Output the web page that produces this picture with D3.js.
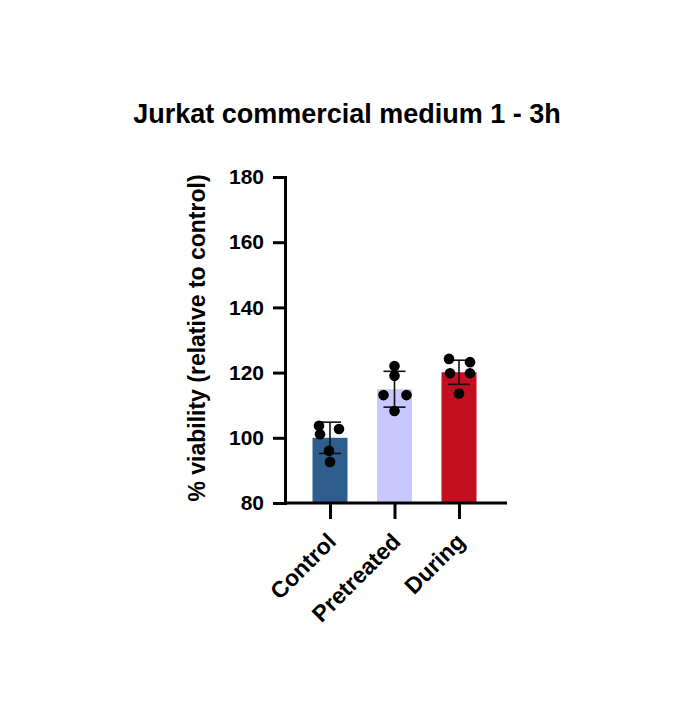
<!DOCTYPE html>
<html>
<head>
<meta charset="utf-8">
<script src="https://cdn.jsdelivr.net/npm/d3@7"></script>
<style>
  body { margin: 0; background: #fff; }
  text { font-family: "Liberation Sans", Arial, sans-serif; font-weight: bold; fill: #000; }
</style>
</head>
<body>
<div id="chart"></div>
<script>
// data
let groups = ["Control", "Pretreated", "During"];
let means = [100, 114.9, 120.1];
let sds = [4.8, 5.5, 3.7];
let points = [
  [103.7, 101.1, 102.7, 96.0, 92.6],
  [122.0, 119.0, 113.1, 113.1, 108.2],
  [124.2, 123.2, 119.8, 119.8, 113.6]
];
// horizontal jitter of each dot, as seen in the picture (px)
let jitter = [
  [-11, -10, 9, -1, 0],
  [0, 0, -11, 12, 0],
  [-10, 11, -9, 11, 0]
];
let colors = ["#2f5e8e", "#c8c8fe", "#c30f20"];
let yTicks = [80, 100, 120, 140, 160, 180];

let width = 694, height = 724;

let svg = d3.select("#chart").append("svg")
  .attr("width", width)
  .attr("height", height);

let x = d3.scalePoint()
  .domain(groups)
  .range([330, 459]);

let y = d3.scaleLinear()
  .domain([80, 180])
  .range([503, 177]);

let barW = 35;

// title
svg.append("text")
  .attr("x", 347)
  .attr("y", 123)
  .attr("text-anchor", "middle")
  .style("font-size", "27px")
  .text("Jurkat commercial medium 1 - 3h");

// bars
svg.selectAll(".bar")
  .data(groups)
  .enter()
  .append("rect")
  .attr("class", "bar")
  .attr("x", d => x(d) - barW / 2)
  .attr("width", barW)
  .attr("y", (d, i) => y(means[i]))
  .attr("height", (d, i) => y(80) - y(means[i]))
  .attr("fill", (d, i) => colors[i]);

// error bars
let err = svg.selectAll(".err")
  .data(groups)
  .enter()
  .append("g")
  .attr("class", "err")
  .attr("stroke", "#111")
  .attr("stroke-width", 1.6);

err.append("line")
  .attr("x1", d => x(d)).attr("x2", d => x(d))
  .attr("y1", (d, i) => y(means[i] + sds[i]))
  .attr("y2", (d, i) => y(means[i] - sds[i]));
err.append("line")
  .attr("x1", d => x(d) - 11).attr("x2", d => x(d) + 11)
  .attr("y1", (d, i) => y(means[i] + sds[i]))
  .attr("y2", (d, i) => y(means[i] + sds[i]));
err.append("line")
  .attr("x1", d => x(d) - 11).attr("x2", d => x(d) + 11)
  .attr("y1", (d, i) => y(means[i] - sds[i]))
  .attr("y2", (d, i) => y(means[i] - sds[i]));

// dots
let dots = [];
groups.forEach((g, i) => {
  points[i].forEach((v, j) => dots.push({ g: g, v: v, dx: jitter[i][j] }));
});

svg.selectAll(".dot")
  .data(dots)
  .enter()
  .append("circle")
  .attr("class", "dot")
  .attr("cx", d => x(d.g) + d.dx)
  .attr("cy", d => y(d.v))
  .attr("r", 5.3)
  .attr("fill", "#000");

// y axis
let yAxis = svg.append("g")
  .attr("transform", "translate(285,0)")
  .call(d3.axisLeft(y).tickValues(yTicks).tickSize(12).tickPadding(9).tickFormat(d3.format("d")));

yAxis.selectAll("text").style("font-size", "21px");

// x axis
let xAxis = svg.append("g")
  .attr("transform", "translate(0,503)")
  .call(d3.axisBottom(x).tickSize(16).tickPadding(4));

xAxis.select(".domain").attr("d", "M285,0H507");
xAxis.selectAll("text")
  .style("font-size", "23px")
  .attr("text-anchor", "end")
  .attr("x", 0)
  .attr("y", 0)
  .attr("dy", 0)
  .attr("transform", "translate(7,40) rotate(-45)");

svg.selectAll(".domain, .tick line")
  .attr("stroke", "#000")
  .attr("stroke-width", 3);

// y label
svg.append("text")
  .attr("transform", "translate(205,338) rotate(-90)")
  .attr("text-anchor", "middle")
  .style("font-size", "23px")
  .text("% viability (relative to control)");
</script>
</body>
</html>
